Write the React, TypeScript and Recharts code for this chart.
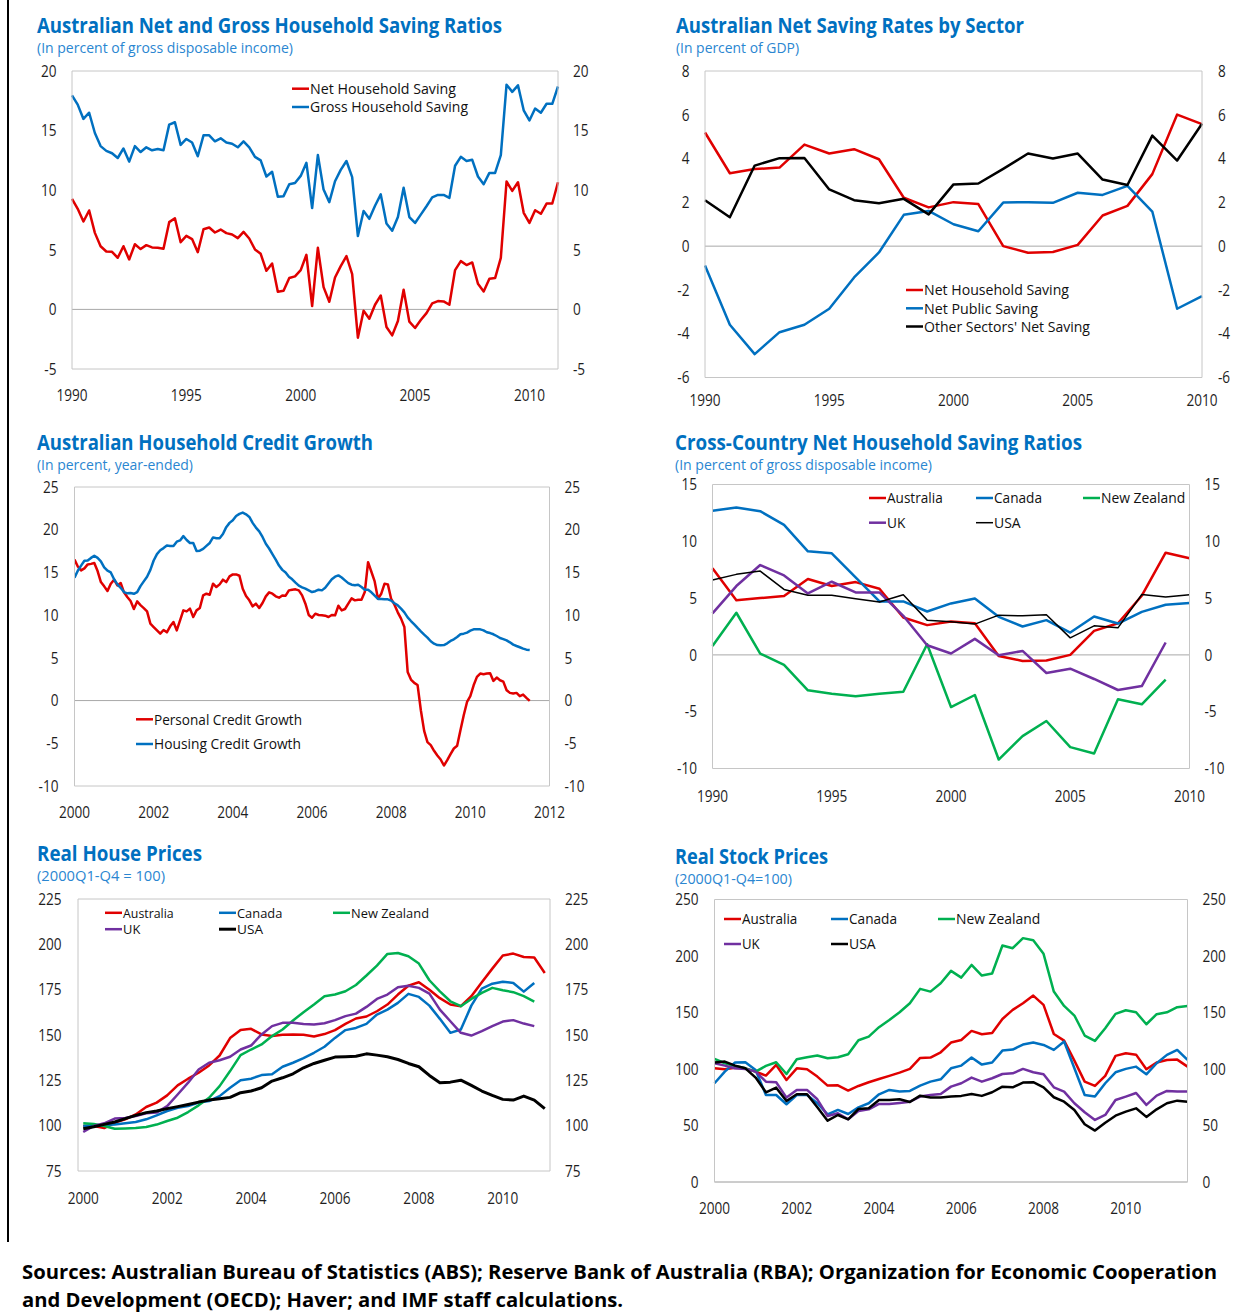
import React from 'react';
import { LineChart, Line, XAxis, YAxis, ReferenceLine } from 'recharts';

const W = 1248;
const H = 1314;
const FONT = "'Open Sans', 'Noto Sans', sans-serif";
const TITLE_BLUE = '#0070C0';
const SUB_BLUE = '#2A86D1';
const RED = '#E00000';
const BLUE = '#0070C0';
const GREEN = '#00B050';
const PURPLE = '#7030A0';
const BLACK = '#000000';
const BORDER = '#C6C6C6';
const ZERO_LINE = '#A8A8A8';
const TICK_TEXT = '#1E1E1E';

// ---------- Panel 1: Australian Net and Gross Household Saving Ratios (quarterly 1990Q1-2011Q2)
const netHouseholdSaving = [
  9.27, 8.44, 7.37, 8.3, 6.42, 5.3, 4.86, 4.83, 4.33, 5.3,
  4.19, 5.47, 5.06, 5.39, 5.2, 5.17, 5.08, 7.32, 7.65, 5.64,
  6.17, 5.9, 4.8, 6.73, 6.87, 6.45, 6.7, 6.4, 6.28, 5.98,
  6.5, 5.95, 5.03, 4.66, 3.24, 3.85, 1.48, 1.56, 2.63, 2.77,
  3.3, 4.58, 0.28, 5.17, 1.87, 0.64, 2.68, 3.63, 4.47, 2.96,
  -2.37, -0.11, -0.78, 0.39, 1.17, -1.48, -2.18, -0.98, 1.65, -1.03,
  -1.56, -0.89, -0.31, 0.5, 0.7, 0.67, 0.39, 3.3, 4.05, 3.72,
  3.94, 2.15, 1.51, 2.57, 2.63, 4.33, 10.73, 9.94, 10.67, 8.1,
  7.26, 8.32, 8.02, 8.88, 8.88, 10.67,
];
const grossHouseholdSaving = [
  17.96, 17.18, 15.98, 16.5, 14.8, 13.7, 13.3, 13.1, 12.7, 13.5,
  12.4, 13.7, 13.2, 13.6, 13.35, 13.45, 13.35, 15.5, 15.7, 13.8,
  14.3, 14.0, 12.85, 14.6, 14.6, 14.1, 14.35, 14.0, 13.9, 13.6,
  14.1, 13.6, 12.8, 12.5, 11.15, 11.55, 9.45, 9.5, 10.5, 10.6,
  11.2, 12.3, 8.5, 12.95, 10.05, 9.0, 10.75, 11.7, 12.45, 11.1,
  6.15, 8.25, 7.6, 8.7, 9.65, 7.2, 6.6, 7.75, 10.2, 7.75,
  7.25, 7.95, 8.65, 9.4, 9.6, 9.6, 9.35, 12.05, 12.8, 12.45,
  12.55, 11.15, 10.5, 11.45, 11.45, 12.95, 18.85, 18.25, 18.8, 16.7,
  15.85, 16.85, 16.5, 17.25, 17.25, 18.7,
];
const savingYTicks = [-5, 0, 5, 10, 15, 20];

// ---------- Panel 2: Australian Net Saving Rates by Sector (annual 1990-2010)
const sectorYears = ['1990', '1991', '1992', '1993', '1994', '1995', '1996', '1997', '1998', '1999', '2000',
  '2001', '2002', '2003', '2004', '2005', '2006', '2007', '2008', '2009', '2010'];
const sectorNetHousehold = [5.19, 3.33, 3.52, 3.59, 4.64, 4.23, 4.43, 3.97, 2.21, 1.77, 2.01, 1.92, 0.0, -0.3, -0.27, 0.06, 1.4, 1.84, 3.29, 6.01, 5.57];
const sectorNetPublic = [-0.88, -3.59, -4.93, -3.93, -3.59, -2.86, -1.43, -0.29, 1.43, 1.61, 1.0, 0.68, 1.99, 2.01, 1.98, 2.44, 2.34, 2.75, 1.58, -2.86, -2.28];
const sectorOther = [2.1, 1.32, 3.68, 4.02, 4.03, 2.59, 2.1, 1.96, 2.16, 1.45, 2.82, 2.86, 3.53, 4.23, 4.0, 4.23, 3.04, 2.79, 5.05, 3.91, 5.59];
const sectorYTicks = [-6, -4, -2, 0, 2, 4, 6, 8];

// ---------- Panel 3: Australian Household Credit Growth (monthly from Jan 2000)
const personalCredit = [
  16.5, 15.7, 15.24, 15.47, 15.94, 16.0, 16.1, 15.16, 13.87, 13.37,
  12.82, 13.68, 14.15, 13.48, 13.76, 12.67, 12.12, 11.65, 10.72, 11.61,
  11.18, 10.83, 10.44, 9.0, 8.61, 8.22, 7.83, 8.26, 7.99, 8.69,
  9.2, 8.22, 9.39, 10.56, 10.44, 10.76, 9.78, 10.56, 10.83, 12.31,
  12.51, 12.39, 13.68, 13.29, 13.6, 14.15, 13.87, 14.54, 14.77, 14.77,
  14.61, 13.09, 12.24, 11.73, 11.03, 11.34, 10.83, 11.42, 12.2, 12.67,
  12.51, 12.2, 12.04, 12.31, 12.28, 12.9, 12.98, 13.02, 12.9, 12.31,
  11.34, 10.02, 9.7, 10.17, 10.02, 9.98, 9.94, 9.78, 10.02, 9.98,
  11.1, 10.56, 10.72, 11.34, 11.96, 11.73, 11.81, 11.81, 12.7, 16.2,
  15.08, 13.95, 11.92, 12.51, 13.68, 13.6, 11.89, 11.22, 10.33, 9.59,
  8.61, 3.35, 2.46, 2.07, 1.83, -1.13, -3.55, -4.87, -5.22, -5.88,
  -6.43, -6.9, -7.6, -6.98, -6.27, -5.61, -5.3, -3.47, -1.71, -0.16,
  0.51, 1.79, 2.77, 3.16, 3.08, 3.16, 3.2, 2.3, 2.69, 2.38,
  2.22, 1.21, 0.9, 0.82, 0.9, 0.51, 0.7, 0.31, -0.04,
];
const housingCredit = [
  14.38, 15.2, 15.8, 16.37, 16.4, 16.7, 16.95, 16.7, 16.3, 15.6,
  15.2, 15.0, 14.2, 13.6, 13.2, 12.7, 12.55, 12.6, 12.5, 12.7,
  13.4, 13.95, 14.5, 15.3, 16.4, 17.15, 17.6, 17.85, 18.15, 18.1,
  18.1, 18.6, 18.75, 19.25, 18.8, 18.45, 18.45, 17.5, 17.55, 17.75,
  18.1, 18.45, 19.1, 19.0, 19.0, 19.5, 20.3, 20.8, 21.1, 21.6,
  21.85, 22.0, 21.8, 21.5, 20.8, 20.25, 19.8, 19.15, 18.35, 17.8,
  17.15, 16.5, 15.8, 15.3, 15.0, 14.5, 14.2, 13.8, 13.45, 13.25,
  13.1, 12.9, 12.7, 12.8, 12.98, 12.9, 13.2, 13.7, 14.2, 14.5,
  14.65, 14.4, 14.07, 13.75, 13.56, 13.5, 13.56, 13.3, 12.98, 12.98,
  12.67, 12.28, 11.9, 11.9, 11.85, 11.85, 11.7, 11.4, 11.15, 10.76,
  10.33, 9.74, 9.31, 8.92, 8.5, 8.1, 7.72, 7.37, 6.94, 6.66,
  6.5, 6.47, 6.5, 6.7, 6.98, 7.17, 7.44, 7.76, 7.83, 7.95,
  8.18, 8.34, 8.34, 8.34, 8.22, 8.0, 7.9, 7.76, 7.56, 7.33,
  7.2, 7.05, 6.82, 6.55, 6.39, 6.24, 6.08, 5.96, 5.92,
];
const creditYTicks = [-10, -5, 0, 5, 10, 15, 20, 25];
const creditMonthTicks = [0, 24, 48, 72, 96, 120, 144];

// ---------- Panel 4: Cross-Country Net Household Saving Ratios (annual 1990-2010)
const crossAustralia = [7.62, 4.82, 5.0, 5.18, 6.68, 6.06, 6.41, 5.82, 3.29, 2.62, 2.94, 2.79, -0.09, -0.53, -0.5, 0.0, 2.12, 2.79, 5.21, 9.0, 8.5];
const crossCanada = [12.68, 12.97, 12.65, 11.44, 9.12, 8.94, 6.82, 4.71, 4.71, 3.82, 4.53, 4.97, 3.35, 2.5, 3.06, 1.97, 3.38, 2.76, 3.79, 4.41, 4.56];
const crossNewZealand = [0.79, 3.71, 0.12, -0.88, -3.12, -3.41, -3.65, -3.41, -3.24, 0.94, -4.59, -3.53, -9.21, -7.15, -5.82, -8.12, -8.68, -3.91, -4.35, -2.18, null];
const crossUK = [3.65, 6.06, 7.91, 7.0, 5.41, 6.44, 5.5, 5.5, 3.44, 0.85, 0.12, 1.41, -0.03, 0.35, -1.59, -1.21, -2.12, -3.09, -2.74, 1.09, null];
const crossUSA = [6.59, 7.09, 7.38, 5.76, 5.26, 5.26, 4.94, 4.65, 5.29, 3.06, 2.91, 2.71, 3.5, 3.44, 3.53, 1.5, 2.56, 2.38, 5.32, 5.09, 5.29];
const crossYTicks = [-10, -5, 0, 5, 10, 15];

// ---------- Panel 5: Real House Prices (quarterly 2000Q1-2011Q1)
const houseAustralia = [99.8, 99.8, 98.7, 101.7, 103.5, 106.2, 110.3, 112.7, 116.7, 122.2, 125.9, 129.2, 133.2, 138.7, 148.3, 152.8, 153.4, 150.3, 149.5, 150.1, 150.3, 150.1, 149.2, 150.5, 152.7, 156.1, 159.1, 160.2, 163.1, 166.8, 172.3, 177.2, 179.1, 175.0, 170.3, 166.8, 165.9, 171.4, 179.1, 186.6, 193.8, 194.9, 193.0, 192.7, 184.2];
const houseCanada = [99.8, 100.2, 100.4, 100.7, 101.3, 102.0, 103.5, 105.7, 108.1, 109.9, 110.8, 112.7, 113.6, 116.3, 120.9, 125.0, 125.9, 127.9, 128.3, 132.5, 134.7, 137.2, 140.2, 143.5, 148.4, 152.7, 153.9, 156.1, 161.3, 164.0, 167.7, 172.7, 171.0, 166.2, 158.9, 151.2, 153.0, 166.2, 175.6, 178.3, 179.4, 178.7, 173.9, 178.7, null];
const houseNewZealand = [101.3, 100.9, 99.8, 98.3, 98.5, 98.7, 99.3, 100.6, 102.6, 104.4, 107.5, 111.2, 115.4, 121.8, 130.1, 138.9, 142.0, 144.8, 149.4, 153.0, 158.0, 162.6, 166.8, 171.4, 172.3, 174.1, 177.6, 182.8, 188.3, 194.7, 195.2, 193.4, 189.4, 180.2, 174.1, 168.6, 165.9, 169.9, 173.2, 176.0, 174.7, 173.6, 171.4, 168.4, null];
const houseUK = [96.5, 99.8, 101.3, 103.9, 104.2, 105.3, 106.8, 107.2, 110.8, 117.2, 123.7, 131.0, 134.7, 136.1, 138.0, 142.0, 144.2, 150.3, 154.9, 156.7, 156.7, 156.1, 155.8, 156.5, 158.2, 160.4, 161.8, 165.5, 169.9, 172.3, 176.3, 177.2, 176.0, 172.8, 164.0, 157.6, 151.2, 149.7, 152.1, 154.9, 157.4, 158.2, 156.3, 154.9, null];
const houseUSA = [98.3, 99.4, 100.7, 102.0, 103.9, 105.7, 107.2, 108.1, 109.4, 110.5, 111.7, 113.0, 114.1, 114.9, 115.6, 118.2, 119.1, 120.9, 124.6, 126.4, 128.6, 131.9, 134.3, 136.1, 137.8, 138.0, 138.3, 139.6, 138.9, 138.0, 136.5, 134.3, 132.5, 127.7, 123.7, 124.0, 125.1, 122.2, 119.1, 116.7, 114.5, 114.1, 116.3, 114.1, 109.4];
const houseYTicks = [75, 100, 125, 150, 175, 200, 225];
const houseYearTicks = [2000, 2002, 2004, 2006, 2008, 2010];

// ---------- Panel 6: Real Stock Prices (quarterly 2000Q1-2011Q3)
const stockAustralia = [100.6, 99.8, 101.2, 100.6, 97.7, 94.2, 103.6, 90.3, 100.6, 99.8, 93.3, 85.3, 85.6, 80.9, 85.0, 88.3, 91.2, 93.9, 96.8, 100.1, 109.8, 110.1, 114.8, 123.4, 125.7, 133.7, 130.8, 131.9, 144.3, 152.3, 158.2, 165.0, 156.7, 131.0, 125.1, 107.4, 88.8, 85.0, 93.9, 111.6, 113.9, 112.7, 99.8, 105.7, 108.0, 108.3, 102.1];
const stockCanada = [87.4, 97.7, 105.7, 106.0, 99.2, 77.0, 77.0, 68.8, 77.0, 77.0, 69.7, 59.9, 63.8, 60.2, 66.1, 69.7, 77.6, 81.5, 80.0, 80.6, 85.3, 88.8, 90.9, 100.6, 103.0, 110.1, 103.9, 105.7, 116.3, 117.2, 121.6, 123.4, 121.3, 116.9, 124.3, 100.6, 77.0, 75.6, 87.4, 97.1, 100.1, 102.1, 95.3, 105.1, 112.5, 116.9, 108.0];
const stockNewZealand = [108.9, 105.1, 102.7, 100.6, 97.7, 102.7, 106.0, 95.6, 108.6, 110.4, 111.9, 109.5, 110.4, 113.0, 125.4, 128.7, 137.0, 143.4, 150.2, 158.2, 170.9, 168.5, 175.9, 186.8, 180.9, 192.1, 182.7, 184.5, 209.3, 206.9, 215.8, 214.0, 201.9, 168.5, 155.8, 147.3, 129.6, 124.9, 136.1, 148.8, 152.0, 150.2, 139.6, 148.5, 150.2, 154.7, 155.8];
const stockUK = [105.1, 103.0, 100.6, 100.1, 97.7, 88.8, 88.3, 74.7, 81.5, 81.5, 73.2, 58.4, 60.8, 55.5, 62.9, 64.3, 69.1, 69.1, 70.0, 71.1, 75.6, 77.0, 77.9, 84.4, 87.4, 92.4, 88.8, 91.8, 95.6, 96.2, 100.1, 97.1, 95.3, 83.8, 80.0, 69.7, 61.7, 54.9, 59.3, 72.6, 75.6, 78.8, 68.2, 76.4, 80.6, 80.0, 80.0];
const stockUSA = [105.7, 106.6, 103.0, 100.6, 92.4, 79.4, 83.5, 71.7, 77.6, 77.6, 66.1, 54.3, 59.3, 55.5, 64.6, 65.2, 72.6, 72.6, 73.2, 70.8, 76.4, 74.7, 74.7, 75.6, 76.2, 77.9, 76.2, 79.4, 84.4, 83.8, 88.0, 88.3, 83.8, 75.0, 71.1, 63.8, 51.1, 45.5, 52.5, 58.7, 62.3, 65.2, 57.6, 64.3, 69.7, 72.0, 71.1];
const stockYTicks = [0, 50, 100, 150, 200, 250];

// ---------- tables built from the arrays
const quarterLabel = (startYear: number, i: number) => `${startYear + Math.floor(i / 4)}Q${(i % 4) + 1}`;

const savingData = netHouseholdSaving.map((v, i) => ({ q: quarterLabel(1990, i), net: v, gross: grossHouseholdSaving[i] }));
const sectorData = sectorYears.map((y, i) => ({ y, hh: sectorNetHousehold[i], pub: sectorNetPublic[i], oth: sectorOther[i] }));
const creditData = personalCredit.map((v, i) => ({ m: i, personal: v, housing: housingCredit[i] }));
const crossData = sectorYears.map((y, i) => ({ y, aus: crossAustralia[i], can: crossCanada[i], nz: crossNewZealand[i], uk: crossUK[i], usa: crossUSA[i] }));
const houseData = houseAustralia.map((v, i) => ({ t: 2000 + (i + 0.5) / 4, aus: v, can: houseCanada[i], nz: houseNewZealand[i], uk: houseUK[i], usa: houseUSA[i] }));
const stockData = stockAustralia.map((v, i) => ({ q: quarterLabel(2000, i), aus: v, can: stockCanada[i], nz: stockNewZealand[i], uk: stockUK[i], usa: stockUSA[i] }));

// ---------- tick renderers
const YTick = (props: any) => {
  const { x, y, payload, textAnchor } = props;
  return (
    <text transform={`translate(${x},${y}) scale(0.85,1)`} textAnchor={textAnchor} dy="0.36em"
      fontSize={16} fontFamily={FONT} fill={TICK_TEXT}>{payload.value}</text>
  );
};
const makeXTick = (fmt: (v: any) => string) => (props: any) => {
  const { x, y, payload } = props;
  return (
    <text transform={`translate(${x},${y}) scale(0.85,1)`} textAnchor="middle" dy="0.71em"
      fontSize={16} fontFamily={FONT} fill={TICK_TEXT}>{fmt(payload.value)}</text>
  );
};

type SeriesDef = { key: string; color: string; width: number };
type PanelProps = {
  data: any[];
  xProps: any;
  xFmt: (v: any) => string;
  yDomain: [number, number];
  yTicks: number[];
  series: SeriesDef[];
  plot: { left: number; right: number; top: number; bottom: number };
  gaps: { left: number; right: number; bottom: number };
};

function Panel({ data, xProps, xFmt, yDomain, yTicks, series, plot, gaps }: PanelProps) {
  const wl = 40, wr = 40, hb = 40;
  const margin = { top: plot.top, left: plot.left - wl, right: W - plot.right - wr, bottom: H - plot.bottom - hb };
  return (
    <div style={{ position: 'absolute', left: 0, top: 0, width: W, height: H }}>
      <LineChart width={W} height={H} data={data} margin={margin}>
        <XAxis {...xProps} height={hb} axisLine={{ stroke: BORDER }} tickLine={false} tickSize={0}
          tickMargin={gaps.bottom} tick={makeXTick(xFmt)} />
        <YAxis yAxisId="l" type="number" width={wl} domain={yDomain} ticks={yTicks} interval={0}
          allowDataOverflow axisLine={{ stroke: BORDER }} tickLine={false} tickSize={0}
          tickMargin={gaps.left} tick={YTick} />
        <YAxis yAxisId="r" orientation="right" type="number" width={wr} domain={yDomain} ticks={yTicks}
          interval={0} allowDataOverflow axisLine={{ stroke: BORDER }} tickLine={false} tickSize={0}
          tickMargin={gaps.right} tick={YTick} />
        <ReferenceLine yAxisId="l" y={yDomain[1]} stroke={BORDER} />
        <ReferenceLine yAxisId="l" y={0} stroke={ZERO_LINE} />
        {series.map((s) => (
          <Line key={s.key} yAxisId="l" type="linear" dataKey={s.key} stroke={s.color} strokeWidth={s.width}
            strokeLinejoin="round" dot={false} activeDot={false} isAnimationActive={false} />
        ))}
      </LineChart>
    </div>
  );
}

const yearOf = (v: any) => String(v).slice(0, 4);

// ---------- overlay texts
const titles = [
  { t: 'Australian Net and Gross Household Saving Ratios', x: 37, y: 33, w: 465 },
  { t: 'Australian Net Saving Rates by Sector', x: 676, y: 33, w: 348 },
  { t: 'Australian Household Credit Growth', x: 37, y: 450, w: 336 },
  { t: 'Cross-Country Net Household Saving Ratios', x: 675, y: 450, w: 407 },
  { t: 'Real House Prices', x: 37, y: 861, w: 165 },
  { t: 'Real Stock Prices', x: 675, y: 864, w: 153 },
];
const subtitles = [
  { t: '(In percent of gross disposable income)', x: 37, y: 53, w: 256 },
  { t: '(In percent of GDP)', x: 676, y: 53, w: 123 },
  { t: '(In percent, year-ended)', x: 37, y: 470, w: 156 },
  { t: '(In percent of gross disposable income)', x: 675, y: 469.5, w: 257 },
  { t: '(2000Q1-Q4 = 100)', x: 37, y: 881, w: 128 },
  { t: '(2000Q1-Q4=100)', x: 675, y: 884, w: 117 },
];
const legendItems = [
  { label: 'Net Household Saving', color: RED, sw: 2.5, x: 292, y: 88.7, tw: 146, fs: 15 },
  { label: 'Gross Household Saving', color: BLUE, sw: 2.5, x: 292, y: 107, tw: 158, fs: 15 },
  { label: 'Net Household Saving', color: RED, sw: 2.5, x: 906, y: 290, tw: 145, fs: 15 },
  { label: 'Net Public Saving', color: BLUE, sw: 2.5, x: 906, y: 308.3, tw: 114, fs: 15 },
  { label: "Other Sectors' Net Saving", color: BLACK, sw: 2.5, x: 906, y: 326.5, tw: 166, fs: 15 },
  { label: 'Personal Credit Growth', color: RED, sw: 2.5, x: 136, y: 719.3, tw: 148, fs: 15 },
  { label: 'Housing Credit Growth', color: BLUE, sw: 2.5, x: 136, y: 744, tw: 147, fs: 15 },
  { label: 'Australia', color: RED, sw: 2.5, x: 869, y: 498, tw: 55.7, fs: 15 },
  { label: 'Canada', color: BLUE, sw: 2.5, x: 976, y: 498, tw: 48, fs: 15 },
  { label: 'New Zealand', color: GREEN, sw: 2.5, x: 1083, y: 498, tw: 84.3, fs: 15 },
  { label: 'UK', color: PURPLE, sw: 2.5, x: 869, y: 522.7, tw: 18.3, fs: 15 },
  { label: 'USA', color: BLACK, sw: 1.5, x: 976, y: 522.7, tw: 26.7, fs: 15 },
  { label: 'Australia', color: RED, sw: 2.5, x: 105, y: 912.8, tw: 50.7, fs: 13.5 },
  { label: 'Canada', color: BLUE, sw: 2.5, x: 219, y: 912.8, tw: 45.3, fs: 13.5 },
  { label: 'New Zealand', color: GREEN, sw: 2.5, x: 333, y: 912.8, tw: 78, fs: 13.5 },
  { label: 'UK', color: PURPLE, sw: 2.5, x: 105, y: 929.2, tw: 17.3, fs: 13.5 },
  { label: 'USA', color: BLACK, sw: 3, x: 219, y: 929.2, tw: 26, fs: 13.5 },
  { label: 'Australia', color: RED, sw: 2.5, x: 724, y: 919, tw: 55.3, fs: 15 },
  { label: 'Canada', color: BLUE, sw: 2.5, x: 831, y: 919, tw: 48, fs: 15 },
  { label: 'New Zealand', color: GREEN, sw: 2.5, x: 938, y: 919, tw: 84.3, fs: 15 },
  { label: 'UK', color: PURPLE, sw: 2.5, x: 724, y: 944, tw: 17.7, fs: 15 },
  { label: 'USA', color: BLACK, sw: 2.5, x: 831, y: 944, tw: 26.7, fs: 15 },
];
const footerLines = [
  { t: 'Sources: Australian Bureau of Statistics (ABS); Reserve Bank of Australia (RBA); Organization for Economic Cooperation', x: 22, y: 1279, w: 1195 },
  { t: 'and Development (OECD); Haver; and IMF staff calculations.', x: 22, y: 1307, w: 601 },
];

function Overlay() {
  return (
    <svg width={W} height={H} style={{ position: 'absolute', left: 0, top: 0 }}>
      <line x1={8} y1={0} x2={8} y2={1242} stroke="#000" strokeWidth={2} />
      {titles.map((d, i) => (
        <text key={'t' + i} x={d.x} y={d.y} fontSize={21} fontWeight={700} fontFamily={FONT} fill={TITLE_BLUE}
          textLength={d.w} lengthAdjust="spacingAndGlyphs">{d.t}</text>
      ))}
      {subtitles.map((d, i) => (
        <text key={'s' + i} x={d.x} y={d.y} fontSize={15} fontFamily={FONT} fill={SUB_BLUE}
          textLength={d.w} lengthAdjust="spacingAndGlyphs">{d.t}</text>
      ))}
      {legendItems.map((d, i) => (
        <g key={'l' + i}>
          <line x1={d.x} x2={d.x + 17} y1={d.y} y2={d.y} stroke={d.color} strokeWidth={d.sw} />
          <text x={d.x + 18} y={d.y} dy="0.36em" fontSize={d.fs} fontFamily={FONT} fill="#111"
            textLength={d.tw} lengthAdjust="spacingAndGlyphs">{d.label}</text>
        </g>
      ))}
      {footerLines.map((d, i) => (
        <text key={'f' + i} x={d.x} y={d.y} fontSize={19.5} fontWeight={700} fontFamily={FONT} fill="#000"
          textLength={d.w} lengthAdjust="spacingAndGlyphs">{d.t}</text>
      ))}
    </svg>
  );
}

export default function App() {
  return (
    <div style={{ position: 'absolute', left: 0, top: 0, width: W, height: H, background: '#fff', fontFamily: FONT }}>
      <Panel
        data={savingData}
        xProps={{ dataKey: 'q', type: 'category', interval: 19 }}
        xFmt={yearOf}
        yDomain={[-5, 20]}
        yTicks={savingYTicks}
        series={[{ key: 'net', color: RED, width: 2.5 }, { key: 'gross', color: BLUE, width: 2.5 }]}
        plot={{ left: 72, right: 558, top: 71, bottom: 369 }}
        gaps={{ left: 15.5, right: 15, bottom: 21 }}
      />
      <Panel
        data={sectorData}
        xProps={{ dataKey: 'y', type: 'category', interval: 4 }}
        xFmt={yearOf}
        yDomain={[-6, 8]}
        yTicks={sectorYTicks}
        series={[
          { key: 'hh', color: RED, width: 2.5 },
          { key: 'pub', color: BLUE, width: 2.5 },
          { key: 'oth', color: BLACK, width: 2.5 },
        ]}
        plot={{ left: 705, right: 1202, top: 71, bottom: 377.5 }}
        gaps={{ left: 15.5, right: 16, bottom: 17 }}
      />
      <Panel
        data={creditData}
        xProps={{ dataKey: 'm', type: 'number', domain: [0, 144], ticks: creditMonthTicks, interval: 0, allowDataOverflow: true }}
        xFmt={(v) => String(2000 + Math.round(v / 12))}
        yDomain={[-10, 25]}
        yTicks={creditYTicks}
        series={[{ key: 'personal', color: RED, width: 2.5 }, { key: 'housing', color: BLUE, width: 2.5 }]}
        plot={{ left: 74.5, right: 549.5, top: 487, bottom: 786 }}
        gaps={{ left: 16, right: 15, bottom: 21 }}
      />
      <Panel
        data={crossData}
        xProps={{ dataKey: 'y', type: 'category', interval: 4 }}
        xFmt={yearOf}
        yDomain={[-10, 15]}
        yTicks={crossYTicks}
        series={[
          { key: 'aus', color: RED, width: 2.5 },
          { key: 'can', color: BLUE, width: 2.5 },
          { key: 'nz', color: GREEN, width: 2.5 },
          { key: 'uk', color: PURPLE, width: 2.5 },
          { key: 'usa', color: BLACK, width: 1.5 },
        ]}
        plot={{ left: 712.5, right: 1189.5, top: 484.5, bottom: 768.5 }}
        gaps={{ left: 15.5, right: 15, bottom: 22 }}
      />
      <Panel
        data={houseData}
        xProps={{ dataKey: 't', type: 'number', domain: [2000, 2011.25], ticks: houseYearTicks.map((y) => y + 0.125), interval: 0, allowDataOverflow: true }}
        xFmt={(v) => String(Math.floor(v))}
        yDomain={[75, 225]}
        yTicks={houseYTicks}
        series={[
          { key: 'aus', color: RED, width: 2.5 },
          { key: 'can', color: BLUE, width: 2.5 },
          { key: 'nz', color: GREEN, width: 2.5 },
          { key: 'uk', color: PURPLE, width: 2.5 },
          { key: 'usa', color: BLACK, width: 3 },
        ]}
        plot={{ left: 78, right: 550, top: 899, bottom: 1171 }}
        gaps={{ left: 16.5, right: 15, bottom: 22 }}
      />
      <Panel
        data={stockData}
        xProps={{ dataKey: 'q', type: 'category', interval: 7 }}
        xFmt={yearOf}
        yDomain={[0, 250]}
        yTicks={stockYTicks}
        series={[
          { key: 'aus', color: RED, width: 2.5 },
          { key: 'can', color: BLUE, width: 2.5 },
          { key: 'nz', color: GREEN, width: 2.5 },
          { key: 'uk', color: PURPLE, width: 2.5 },
          { key: 'usa', color: BLACK, width: 2.5 },
        ]}
        plot={{ left: 714.5, right: 1187.5, top: 899.5, bottom: 1182 }}
        gaps={{ left: 16, right: 15, bottom: 21 }}
      />
      <Overlay />
    </div>
  );
}
